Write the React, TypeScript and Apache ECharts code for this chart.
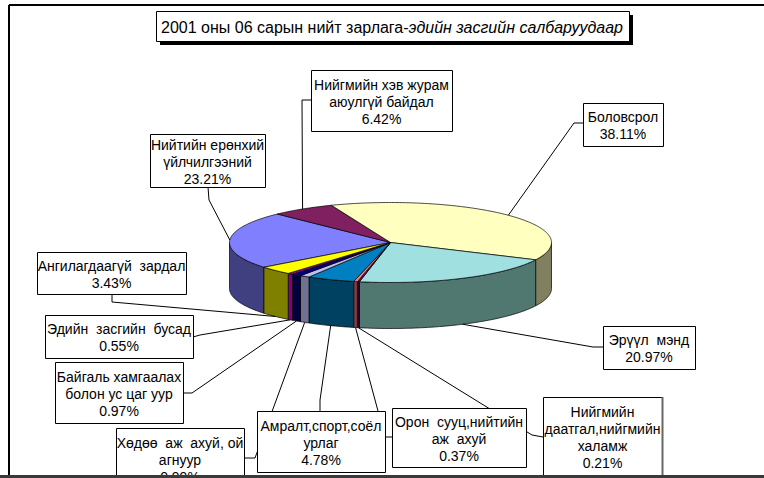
import React, { useEffect, useRef } from 'react';
import * as echarts from 'echarts';

// Data (Excel series order, clockwise)
const categories = [
  'Нийтийн ерөнхий\nүйлчилгээний',
  'Нийгмийн хэв журам\nаюулгүй байдал',
  'Боловсрол',
  'Эрүүл  мэнд',
  'Нийгмийн\nдаатгал,нийгмийн\nхаламж',
  'Орон  сууц,нийтийн\nаж  ахуй',
  'Амралт,спорт,соёл\nурлаг',
  'Хөдөө  аж  ахуй, ой\nагнуур',
  'Байгаль хамгаалах\nболон ус цаг уур',
  'Эдийн  засгийн  бусад',
  'Ангилагдаагүй  зардал',
];
const shares = [23.21, 6.42, 38.11, 20.97, 0.21, 0.37, 4.78, 0.99, 0.97, 0.55, 3.43];

// Styles
const topColors = ['#8080FF', '#802060', '#FFFFC0', '#A0E0E0', '#600060', '#FF8080', '#0080C0', '#C0C0F0', '#000080', '#A000A0', '#FFFF00'];
const sideColors = ['#404080', '#401030', '#808060', '#507870', '#300030', '#804040', '#004060', '#707090', '#000040', '#800080', '#808000'];

// Layout: label boxes [x, y, w, h] and leader [attachX, attachY, elbowX, elbowY]
const labelBoxes = [
  [150, 134, 115, 53],
  [311, 70, 141, 61],
  [583, 103, 80, 43],
  [603, 326, 92, 43],
  [543, 397, 119, 78],
  [392, 408, 134, 59],
  [257, 411, 128, 61],
  [116, 428, 128, 61],
  [55, 362, 128, 61],
  [45, 315, 148, 43],
  [37, 252, 149, 42],
];
const labelLeaders = [
  [208, 187, 209, 200],
  [311, 100, 302, 100],
  [583, 123, 574, 123],
  [603, 347, 593, 347],
  [543, 437, 532, 435],
  [392, 437, 385, 437],
  [320, 411, 320, 400],
  [244, 458, 255, 458],
  [183, 393, 192, 393],
  [193, 337, 200, 335],
  [112, 294, 112, 302],
];

const CX = 390.5;
const CY = 242.5;
const RX = 161;
const RY = 40;
const DEPTH = 46;
const START = 231.8;

const total = shares.reduce((a, b) => a + b, 0);
const cumBefore: number[] = [];
shares.reduce((acc, v, i) => {
  cumBefore[i] = acc;
  return acc + v;
}, 0);

function pt(a: number, dy = 0): number[] {
  const r = (a * Math.PI) / 180;
  return [CX + RX * Math.sin(r), CY - RY * Math.cos(r) + dy];
}
function arc(a0: number, a1: number, dy = 0): number[][] {
  const n = Math.max(2, Math.ceil(Math.abs(a1 - a0) / 1));
  const out: number[][] = [];
  for (let k = 0; k <= n; k++) out.push(pt(a0 + ((a1 - a0) * k) / n, dy));
  return out;
}

const FONT = '"Liberation Sans", Arial, sans-serif';

export default function App() {
  const ref = useRef<HTMLDivElement>(null);
  useEffect(() => {
    if (!ref.current) return;
    const chart = echarts.init(ref.current, null, { renderer: 'svg' });
    const renderItem = (params: any, api: any) => {
      const i = params.dataIndex;
      const v = api.value(0);
      const s = START + (cumBefore[i] / total) * 360;
      const e = s + (v / total) * 360;
      const children: any[] = [];
      for (const k of [-1, 0, 1, 2]) {
        const lo = Math.max(s, 90 + 360 * k);
        const hi = Math.min(e, 270 + 360 * k);
        if (hi > lo) {
          const points = arc(lo, hi, 0).concat(arc(hi, lo, DEPTH));
          children.push({
            type: 'polygon',
            shape: { points },
            style: { fill: sideColors[i], stroke: '#000', lineWidth: 0.7 },
            z2: 1,
          });
        }
      }
      children.push({
        type: 'polygon',
        shape: { points: [[CX, CY]].concat(arc(s, e, 0)) },
        style: { fill: topColors[i], stroke: '#000', lineWidth: 0.7 },
        z2: 2,
      });
      const m = (s + e) / 2;
      const front = Math.cos((m * Math.PI) / 180) < 0;
      const anchor = front ? pt(m, DEPTH) : pt(m, 0);
      const L = labelLeaders[i];
      children.push({
        type: 'polyline',
        shape: { points: [[L[0], L[1]], [L[2], L[3]], anchor] },
        style: { stroke: '#000', lineWidth: 1, fill: null },
        z2: 3,
      });
      const B = labelBoxes[i];
      children.push({
        type: 'rect',
        shape: { x: B[0] + 0.5, y: B[1] + 0.5, width: B[2], height: B[3] },
        style: { fill: '#fff', stroke: '#000', lineWidth: 1 },
        z2: 4,
      });
      children.push({
        type: 'text',
        style: {
          text: categories[i] + '\n' + shares[i].toFixed(2) + '%',
          x: B[0] + B[2] / 2,
          y: B[1] + B[3] / 2 + 1,
          align: 'center',
          verticalAlign: 'middle',
          fontSize: 14,
          fontFamily: FONT,
          lineHeight: 17,
          fill: '#000',
        },
        z2: 5,
      });
      return { type: 'group', children };
    };
    chart.setOption({
      animation: false,
      backgroundColor: '#fff',
      series: [
        {
          type: 'custom',
          coordinateSystem: 'none',
          renderItem,
          data: shares,
          silent: true,
        },
      ],
      graphic: [
        { type: 'line', shape: { x1: 9, y1: 5, x2: 764, y2: 5 }, style: { stroke: '#000', lineWidth: 2 }, z: 50 },
        { type: 'line', shape: { x1: 9, y1: 5, x2: 9, y2: 478 }, style: { stroke: '#000', lineWidth: 2 }, z: 50 },
        { type: 'line', shape: { x1: 662.5, y1: 397, x2: 662.5, y2: 478 }, style: { stroke: '#666', lineWidth: 2 }, z: 50 },
        { type: 'rect', shape: { x: 160, y: 15, width: 473, height: 30 }, style: { fill: '#000' }, z: 50 },
        { type: 'rect', shape: { x: 156.5, y: 11.5, width: 473, height: 30 }, style: { fill: '#fff', stroke: '#000', lineWidth: 1 }, z: 51 },
        {
          type: 'text',
          z: 52,
          style: {
            text: '{a|2001 оны 06 сарын нийт зарлага-}{b|эдийн засгийн салбаруудаар}',
            x: 392,
            y: 27,
            align: 'center',
            verticalAlign: 'middle',
            rich: {
              a: { fontSize: 16, fontFamily: FONT, fill: '#000', color: '#000' },
              b: { fontSize: 16, fontFamily: FONT, fontStyle: 'italic', fill: '#000', color: '#000' },
            },
          },
        },
        { type: 'rect', shape: { x: 0, y: 475, width: 764, height: 3 }, style: { fill: '#3a3a3a' }, z: 60 },
      ],
    });
    return () => chart.dispose();
  }, []);
  return <div ref={ref} style={{ position: 'fixed', left: 0, top: 0, width: 764, height: 478 }} />;
}
